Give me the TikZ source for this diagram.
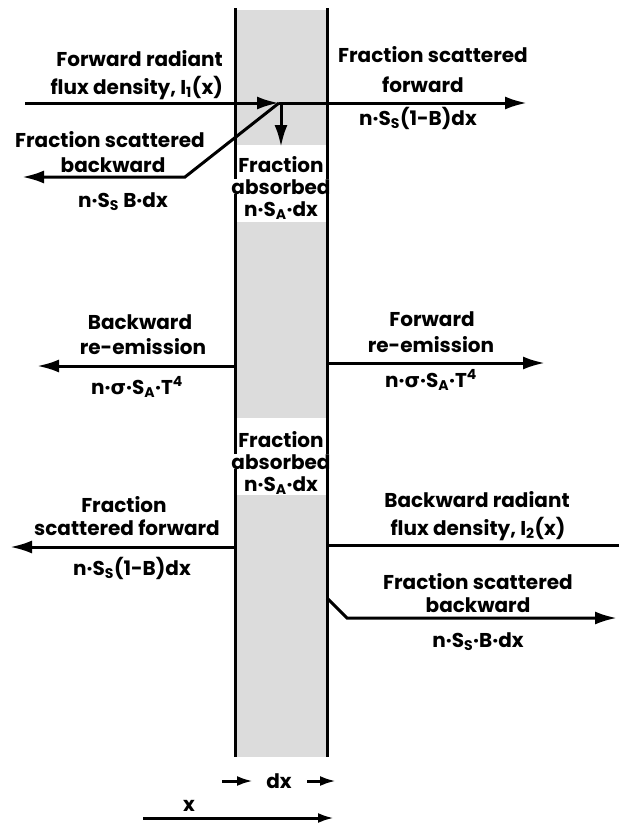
\documentclass[tikz,border=0pt]{standalone}
\usepackage{fontspec}
\setmainfont{Poppins}
\newfontfamily\grk{DejaVu Sans}
\usetikzlibrary{arrows.meta}
\definecolor{slabgray}{HTML}{DCDCDC}
\newcommand{\sig}{{\grk σ}}
\begin{document}
\begin{tikzpicture}[x=1pt,y=-1pt,
  lbl/.style={font=\fontsize{20}{24}\selectfont\bfseries, inner sep=0pt, anchor=base},
  lble/.style={lbl, anchor=base east},
  wlbl/.style={lbl, fill=white, inner xsep=1pt},
  ln/.style={line width=3pt},
  arr/.style={ln,-{Latex[length=22pt,width=13pt]}},
  sarr/.style={ln,-{Latex[length=16pt,width=10pt]}}]
\useasboundingbox (0,0) rectangle (619,828);
\fill[white] (0,0) rectangle (619,828);
% slab
\fill[slabgray] (235,10) rectangle (327,145);
\fill[slabgray] (235,222) rectangle (327,418);
\fill[slabgray] (235,495) rectangle (327,757);
\coordinate (sLt) at (235,8);
\coordinate (sLb) at (235,757);
\coordinate (sRt) at (327,8);
\coordinate (sRb) at (327,757);
\draw[ln] (sLt) -- (sLb);
\draw[ln] (sRt) -- (sRb);
% top: forward flux
\coordinate (fIn) at (25,103);
\coordinate (J) at (279,103);
\coordinate (fOut) at (527,103);
\coordinate (dAbs) at (281,147);
\coordinate (bBend) at (185,177);
\coordinate (bEnd) at (22,177);
\draw[arr] (fIn) -- (J);
\draw[arr] (J) -- (fOut);
\draw[arr] (J -| dAbs) -- (dAbs);
\draw[arr,line join=miter] (J) -- (bBend) -- (bEnd);
\node[lble] (t1a) at (223,66) {Forward radiant};
\node[lble] (t1b) at (223,94) {flux density, I\textsubscript{1}(x)};
\node[lbl] (t2a) at (110,147) {Fraction scattered};
\node[lbl] (t2b) at (113,172) {backward};
\node[lbl] (t2c) at (123,207) {n·S\textsubscript{S} B·dx};
\node[lbl] (t3a) at (433,62) {Fraction scattered};
\node[lbl] (t3b) at (423,92) {forward};
\node[lbl] (t3c) at (418,125) {n·S\textsubscript{S}(1-B)dx};
% absorbed box 1
\node[lbl] (a1a) at (281,172) {Fraction};
\node[wlbl] (a1b) at (281,194) {absorbed};
\node[lbl] (a1c) at (281,216) {n·S\textsubscript{A}·dx};
% re-emission
\coordinate (reL0) at (235,366);
\coordinate (reL1) at (37,366);
\coordinate (reR0) at (327,363);
\coordinate (reR1) at (545,363);
\draw[arr] (reL0) -- (reL1);
\draw[arr] (reR0) -- (reR1);
\node[lbl] (t4a) at (140,329) {Backward};
\node[lbl] (t4b) at (143,354) {re-emission};
\node[lbl] (t4c) at (137,394) {n·\sig·S\textsubscript{A}·T\textsuperscript{4}};
\node[lbl] (t5a) at (432,326) {Forward};
\node[lbl] (t5b) at (431,352) {re-emission};
\node[lbl] (t5c) at (431,387) {n·\sig·S\textsubscript{A}·T\textsuperscript{4}};
% absorbed box 2
\node[lbl] (a2a) at (281,447) {Fraction};
\node[wlbl] (a2b) at (281,469) {absorbed};
\node[lbl] (a2c) at (281,491) {n·S\textsubscript{A}·dx};
% bottom: backward flux
\coordinate (sfL0) at (235,547);
\coordinate (sfL1) at (10,547);
\draw[arr] (sfL0) -- (sfL1);
\node[lbl] (t6a) at (124,512) {Fraction};
\node[lbl] (t6b) at (127,535) {scattered forward};
\node[lbl] (t6c) at (132,575) {n·S\textsubscript{S}(1-B)dx};
\coordinate (bIn) at (619,545);
\coordinate (bInE) at (327,545);
\draw[ln] (bIn) -- (bInE);
\node[lbl] (t7a) at (477,507) {Backward radiant};
\node[lbl] (t7b) at (478,535) {flux density, I\textsubscript{2}(x)};
\coordinate (sb0) at (327,598);
\coordinate (sb1) at (347,618);
\coordinate (sb2) at (617,618);
\draw[arr,line join=miter] (sb0) -- (sb1) -- (sb2);
\node[lbl] (t8a) at (478,589) {Fraction scattered};
\node[lbl] (t8b) at (478,612) {backward};
\node[lbl] (t8c) at (478,647) {n·S\textsubscript{S}·B·dx};
% dx and x
\node[lbl] (dx) at (279,788) {dx};
\coordinate (dxa0) at (222,781);
\coordinate (dxa1) at (253,781);
\coordinate (dxb0) at (307,781);
\coordinate (dxb1) at (336,781);
\draw[sarr] (dxa0) -- (dxa1);
\draw[sarr] (dxb0) -- (dxb1);
\coordinate (xa0) at (143,818);
\coordinate (xa1) at (334,818);
\draw[sarr] (xa0) -- (xa1);
\node[lbl] (xl) at (189,811) {x};
\end{tikzpicture}
\end{document}
